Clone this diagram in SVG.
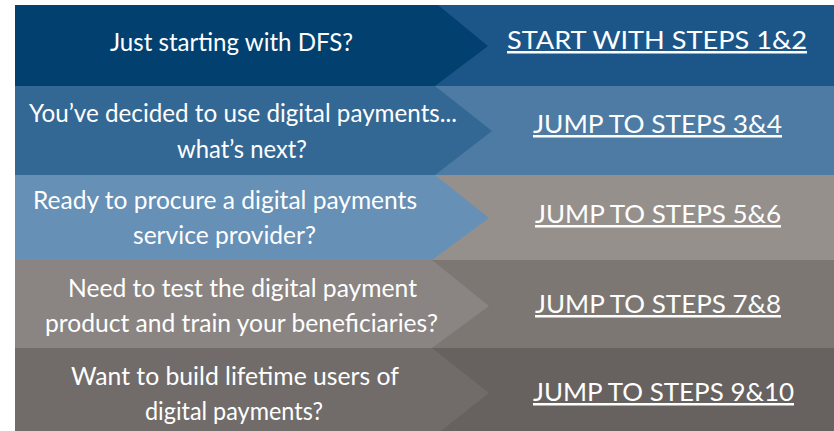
<svg xmlns="http://www.w3.org/2000/svg" width="834" height="431" viewBox="0 0 834 431">
  <style>
    text { font-family: Lato, "Open Sans", "Liberation Sans", sans-serif; font-size: 25px; fill: #ffffff; }
    .link { text-decoration: underline; }
  </style>
  <rect x="0" y="0" width="834" height="431" fill="#ffffff"/>
  <g id="row1">
    <g id="link1">
      <rect x="420" y="5" width="414" height="81" fill="#1c5689"/>
      <text class="link" x="507" y="49" textLength="300" lengthAdjust="spacingAndGlyphs">START WITH STEPS 1&amp;2</text>
    </g>
    <g id="question1">
      <polygon points="15,5 438,5 488,46 435,86 15,86" fill="#02416f"/>
      <text x="110" y="51" textLength="243" lengthAdjust="spacingAndGlyphs">Just starting with DFS?</text>
    </g>
  </g>
  <g id="row2">
    <g id="link2">
      <rect x="420" y="86" width="414" height="89" fill="#4e7ba4"/>
      <text class="link" x="533" y="133" textLength="249" lengthAdjust="spacingAndGlyphs">JUMP TO STEPS 3&amp;4</text>
    </g>
    <g id="question2">
      <polygon points="15,86 435,86 492,131 435,175 15,175" fill="#346894"/>
      <text x="29" y="122" textLength="428" lengthAdjust="spacingAndGlyphs">You’ve decided to use digital payments...</text>
      <text x="177" y="158" textLength="130" lengthAdjust="spacingAndGlyphs">what’s next?</text>
    </g>
  </g>
  <g id="row3">
    <g id="link3">
      <rect x="420" y="175" width="414" height="85" fill="#96908c"/>
      <text class="link" x="535" y="223" textLength="246" lengthAdjust="spacingAndGlyphs">JUMP TO STEPS 5&amp;6</text>
    </g>
    <g id="question3">
      <polygon points="15,175 435,175 489,218 432,260 15,260" fill="#6690b6"/>
      <text x="33" y="209" textLength="384" lengthAdjust="spacingAndGlyphs">Ready to procure a digital payments</text>
      <text x="133" y="244" textLength="183" lengthAdjust="spacingAndGlyphs">service provider?</text>
    </g>
  </g>
  <g id="row4">
    <g id="link4">
      <rect x="420" y="260" width="414" height="88" fill="#7c7773"/>
      <text class="link" x="535" y="313" textLength="246" lengthAdjust="spacingAndGlyphs">JUMP TO STEPS 7&amp;8</text>
    </g>
    <g id="question4">
      <polygon points="15,260 432,260 489,306 432,348 15,348" fill="#8a8582"/>
      <text x="68" y="297" textLength="349" lengthAdjust="spacingAndGlyphs">Need to test the digital payment</text>
      <text x="45" y="332" textLength="393" lengthAdjust="spacingAndGlyphs">product and train your beneficiaries?</text>
    </g>
  </g>
  <g id="row5">
    <g id="link5">
      <rect x="420" y="348" width="414" height="83" fill="#67625f"/>
      <text class="link" x="533" y="401" textLength="261" lengthAdjust="spacingAndGlyphs">JUMP TO STEPS 9&amp;10</text>
    </g>
    <g id="question5">
      <polygon points="15,348 432,348 489,393 432,438 15,438" fill="#716c6a"/>
      <text x="71" y="385" textLength="328" lengthAdjust="spacingAndGlyphs">Want to build lifetime users of</text>
      <text x="145" y="420" textLength="178" lengthAdjust="spacingAndGlyphs">digital payments?</text>
    </g>
  </g>
  <g id="connectors"/>
</svg>
